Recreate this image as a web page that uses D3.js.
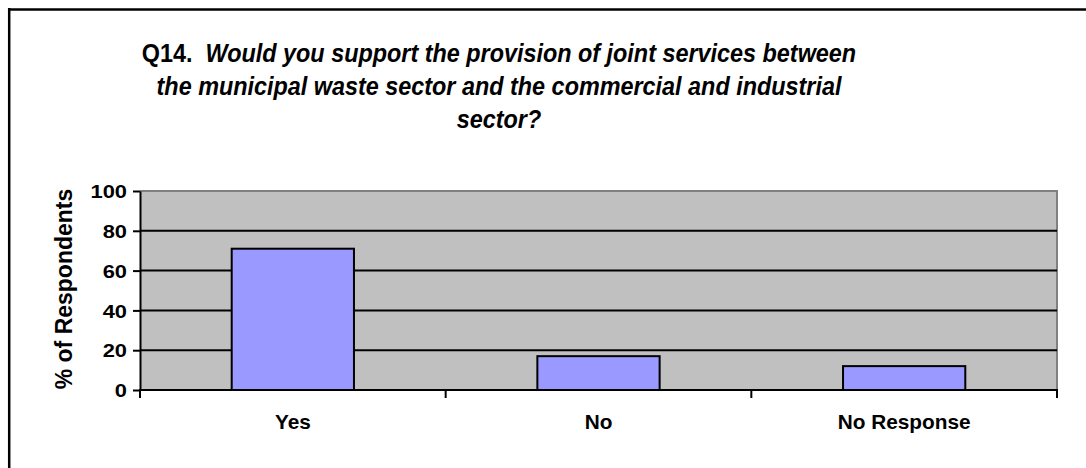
<!DOCTYPE html>
<html>
<head>
<meta charset="utf-8">
<script src="https://cdn.jsdelivr.net/npm/d3@7"></script>
<style>
  html, body { margin: 0; padding: 0; background: #ffffff; }
  svg { display: block; }
  text { font-family: "Liberation Sans", Arial, sans-serif; fill: #000; }
</style>
</head>
<body>
<svg id="chart" width="1086" height="468"></svg>
<script>
// Survey answers (% of respondents)
const categories = ["Yes", "No", "No Response"];
const values = [71, 17, 12];
const yTicks = [0, 20, 40, 60, 80, 100];
const titleLines = [
  ["Q14.  ", "Would you support the provision of joint services between"],
  ["", "the municipal waste sector and the commercial and industrial"],
  ["", "sector?"]
];
const yTitle = "% of Respondents";

const svg = d3.select("#chart");
const W = 1086, H = 468;
const plot = { left: 140, right: 1057, top: 191, bottom: 390 };

// Outer frame (top and left edges fall inside the page)
svg.append("line").attr("x1", 8).attr("x2", W).attr("y1", 9.5).attr("y2", 9.5)
  .attr("stroke", "#000").attr("stroke-width", 2.5);
svg.append("line").attr("x1", 9.2).attr("x2", 9.2).attr("y1", 8).attr("y2", H)
  .attr("stroke", "#000").attr("stroke-width", 2.5);

// Title (slightly tall lettering)
const titleScaleY = 1.07;
const title = svg.append("text")
  .attr("transform", `scale(1,${titleScaleY})`)
  .attr("text-anchor", "middle")
  .style("font-size", "23.4px")
  .style("font-weight", "bold")
  .style("white-space", "pre");
titleLines.forEach((ln, i) => {
  const t = title.append("tspan").attr("x", 499).attr("y", (62 + i * 33) / titleScaleY);
  if (ln[0]) t.append("tspan").style("font-style", "normal").text(ln[0]);
  t.append("tspan").style("font-style", "italic").text(ln[1]);
});

// Scales
const x = d3.scaleBand()
  .domain(categories)
  .range([plot.left, plot.right])
  .paddingInner(0.6)
  .paddingOuter(0.3);
const y = d3.scaleLinear().domain([0, 100]).range([plot.bottom, plot.top]);

// Plot area background
svg.append("rect")
  .attr("x", plot.left).attr("y", plot.top)
  .attr("width", plot.right - plot.left).attr("height", plot.bottom - plot.top)
  .attr("fill", "#c0c0c0");

// Plot area border (top and right)
svg.append("path")
  .attr("d", `M${plot.left},${y(100)}H${plot.right}V${plot.bottom}`)
  .attr("fill", "none").attr("stroke", "#808080").attr("stroke-width", 2);

// Horizontal gridlines
svg.append("g").selectAll("line")
  .data(yTicks.filter(v => v > 0 && v < 100))
  .join("line")
  .attr("x1", plot.left).attr("x2", plot.right)
  .attr("y1", d => y(d)).attr("y2", d => y(d))
  .attr("stroke", "#000").attr("stroke-width", 2);

// Bars
svg.append("g").selectAll("rect")
  .data(values)
  .join("rect")
  .attr("x", (d, i) => x(categories[i]))
  .attr("y", d => y(d))
  .attr("width", x.bandwidth())
  .attr("height", d => y(0) - y(d))
  .attr("fill", "#9999ff")
  .attr("stroke", "#000")
  .attr("stroke-width", 2);

// Y axis
const yAxis = svg.append("g")
  .attr("transform", `translate(${plot.left},0)`)
  .call(d3.axisLeft(y).tickValues(yTicks).tickSize(7).tickPadding(6).tickSizeOuter(0));
yAxis.select(".domain").attr("stroke", "#000").attr("stroke-width", 2);
yAxis.selectAll(".tick line").attr("stroke", "#000").attr("stroke-width", 2);
yAxis.selectAll(".tick text")
  .attr("x", -13 / 1.25)
  .attr("dy", "0.38em")
  .attr("transform", "scale(1.25,1)")
  .style("font-family", "'Liberation Sans', Arial, sans-serif")
  .style("font-size", "17.5px")
  .style("font-weight", "bold");

// X axis: labels at band centres
const xAxis = svg.append("g")
  .attr("transform", `translate(0,${plot.bottom})`)
  .call(d3.axisBottom(x).tickSize(0).tickPadding(24.4));
xAxis.select(".domain").remove();
xAxis.selectAll(".tick text")
  .style("font-family", "'Liberation Sans', Arial, sans-serif")
  .style("font-size", "20.8px")
  .style("font-weight", "bold");

// X axis line and category boundary ticks
svg.append("line")
  .attr("x1", plot.left - 1).attr("x2", plot.right + 1)
  .attr("y1", plot.bottom).attr("y2", plot.bottom)
  .attr("stroke", "#000").attr("stroke-width", 2);
svg.append("g").selectAll("line")
  .data(d3.range(categories.length + 1))
  .join("line")
  .attr("x1", i => plot.left + i * x.step())
  .attr("x2", i => plot.left + i * x.step())
  .attr("y1", plot.bottom).attr("y2", plot.bottom + 8)
  .attr("stroke", "#000").attr("stroke-width", 2);

// Y axis title
svg.append("text")
  .attr("transform", `translate(72,289) rotate(-90)`)
  .attr("text-anchor", "middle")
  .style("font-size", "23px")
  .style("font-weight", "bold")
  .text(yTitle);
</script>
</body>
</html>
